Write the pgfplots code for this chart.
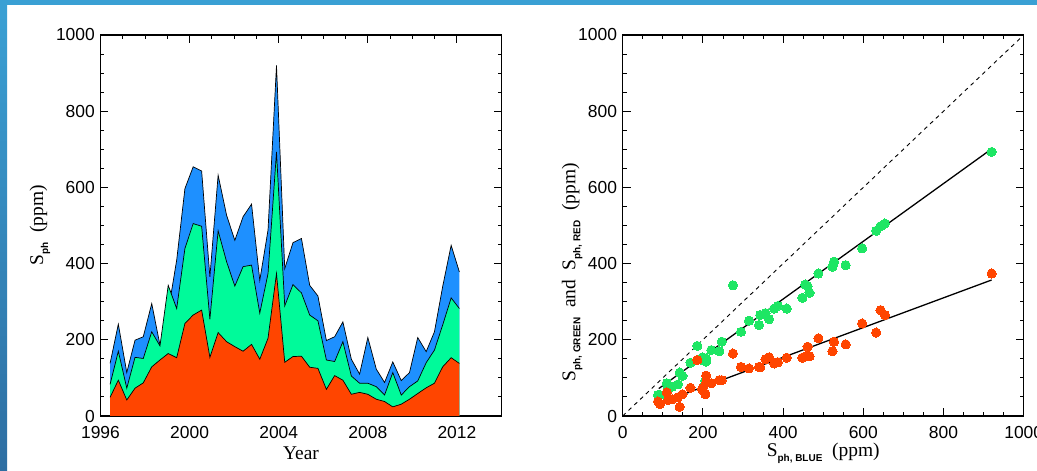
\documentclass[border=0pt]{standalone}
\usepackage{pgfplots}
\pgfplotsset{compat=1.18}
\usepackage{pgfplotstable}
\usepackage{fontspec}
\setmainfont{Liberation Serif}
\setsansfont{Liberation Sans}

\definecolor{sblue}{RGB}{30,144,255}
\definecolor{sgreen}{RGB}{0,250,154}
\definecolor{sred}{RGB}{255,69,0}
\definecolor{dotgreen}{RGB}{30,230,100}
\definecolor{dotred}{RGB}{255,69,0}
\definecolor{frameblue}{RGB}{58,160,212}
\definecolor{framedark}{RGB}{46,110,162}

% Photometric signal per five-rotation bin: blue, green and red channels (ppm)
\pgfplotstableread{
year     blue green red
1996.43  138  83   49
1996.80  241  170  94
1997.18  114  73   42
1997.55  199  154  73
1997.92  208  151  87
1998.30  295  221  129
1998.67  186  184  147
1999.04  275  343  164
1999.42  409  282  153
1999.79  597  440  243
2000.16  654  505  265
2000.54  643  498  278
2000.91  365  254  154
2001.28  632  486  219
2001.66  527  405  195
2002.03  461  341  182
2002.40  523  392  170
2002.78  556  396  188
2003.15  356  270  149
2003.52  488  374  204
2003.90  920  693  374
2004.27  387  289  141
2004.64  455  345  156
2005.02  466  323  157
2005.39  343  265  128
2005.76  315  250  125
2006.14  198  147  70
2006.51  208  143  106
2006.88  247  195  94
2007.26  149  105  57
2007.63  110  86   62
2008.00  206  86   57
2008.38  123  77   44
2008.75  88   55   38
2009.12  142  114  24
2009.50  93   55   31
2009.87  114  77   44
2010.24  206  92   59
2010.62  169  140  74
2010.99  221  173  86
2011.36  340  239  129
2011.74  448  310  153
2012.11  378  282  138
}\sph

\newcommand\sub[1]{\raisebox{-0.55ex}{\sffamily\bfseries\fontsize{10}{11}\selectfont #1}}

\pgfplotsset{
  panel/.style={
    scale only axis, width=401bp, height=381bp, anchor=south west,
    axis line style={line width=1.2bp},
    major tick length=8bp, minor tick length=4bp,
    every tick/.style={black, line width=0.9bp},
    tick align=inside,
    ticklabel style={font=\sffamily\fontsize{17.5}{19}\selectfont, inner sep=1bp},
    xticklabel style={yshift=-9bp},
    yticklabel style={xshift=-4.5bp},
    /pgf/number format/assume math mode=true,
    /pgf/number format/1000 sep={},
    label style={font=\fontsize{19.5}{21}\selectfont},
    xlabel style={at={(axis description cs:0.5,0)}, anchor=center, yshift=-37bp},
    ymin=0, ymax=1000, ytick={0,200,...,1000}, minor y tick num=3,
  },
  outline/.style={black, line width=0.7bp, no marks},
  dots/.style={only marks, mark=*, mark size=4.6bp, draw=none,
    mark options={draw=#1, fill=#1, line width=0pt}},
}

\begin{document}
\begin{tikzpicture}
\path[use as bounding box] (0,0) rectangle (1037bp,471bp);
\fill[white] (0,0) rectangle (1037bp,471bp);
\fill[frameblue] (0,466bp) rectangle (1037bp,471bp);
\shade[top color=frameblue, bottom color=framedark] (0,0) rectangle (7bp,466bp);

% Time series of the three channels, each filled down to zero
\begin{axis}[panel, at={(100.5bp,55bp)},
  xmin=1996, xmax=2014, xtick={1996,2000,...,2012}, minor x tick num=3,
  xlabel={Year}, ylabel={S\sub{ph}\ \ (ppm)},
  ylabel style={at={(axis description cs:-0.151,0.5)}, anchor=center}]
\addplot[fill=sblue, draw=none] table[x=year, y=blue] {\sph} \closedcycle;
\addplot[outline] table[x=year, y=blue] {\sph};
\addplot[fill=sgreen, draw=none] table[x=year, y=green] {\sph} \closedcycle;
\addplot[outline] table[x=year, y=green] {\sph};
\addplot[fill=sred, draw=none] table[x=year, y=red] {\sph} \closedcycle;
\addplot[outline] table[x=year, y=red] {\sph};
\end{axis}

% Green and red channels against the blue channel
\begin{axis}[panel, at={(622.7bp,55bp)},
  xmin=0, xmax=1000, xtick={0,200,...,1000}, minor x tick num=3,
  xlabel={S\sub{ph, BLUE}\ \ (ppm)},
  ylabel={S\sub{ph, GREEN}\ \ and\ \ S\sub{ph, RED}\ \ (ppm)},
  ylabel style={at={(axis description cs:-0.126,0.377)}, anchor=center}]
\addplot[black, line width=0.9bp, dash pattern=on 4bp off 4bp, no marks] coordinates {(0,0) (1000,1000)};
\addplot[dots=dotgreen] table[x=blue, y=green] {\sph};
\addplot[dots=dotred] table[x=blue, y=red] {\sph};
\addplot[black, line width=1.3bp, no marks] coordinates {(90,72) (920,701)};
\addplot[black, line width=1.3bp, no marks] coordinates {(90,33) (920,357)};
\end{axis}
\end{tikzpicture}
\end{document}
